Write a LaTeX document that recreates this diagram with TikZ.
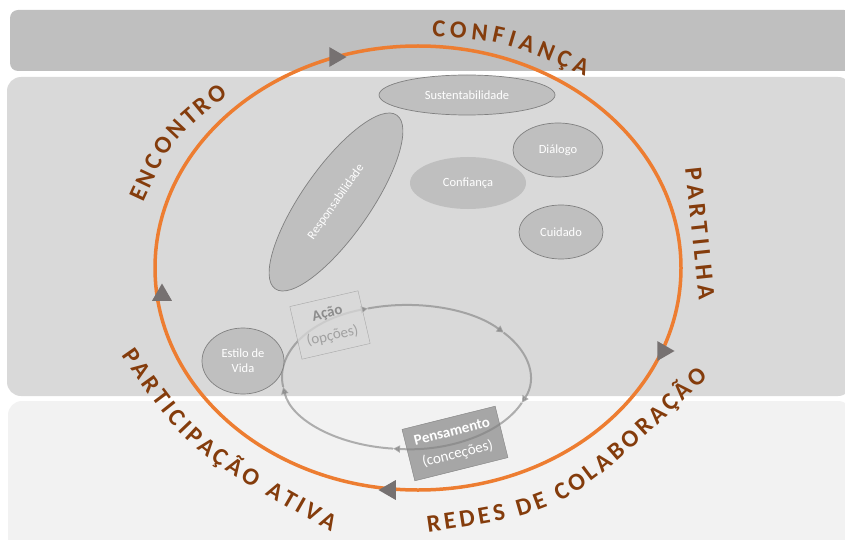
\documentclass[tikz,border=0pt]{standalone}
\usepackage{fontspec}
\setmainfont{Carlito}
\usetikzlibrary{shapes.geometric,decorations.text,arrows.meta}

\definecolor{laranja}{HTML}{ED7D31}
\definecolor{castanho}{HTML}{843C0C}
\definecolor{faixaA}{HTML}{BFBFBF}
\definecolor{faixaB}{HTML}{D9D9D9}
\definecolor{faixaC}{HTML}{F2F2F2}
\definecolor{corbolha}{HTML}{BFBFBF}
\definecolor{corbordo}{HTML}{808080}
\definecolor{corseta}{HTML}{767171}

\newcommand{\fonterotulo}{\bfseries\fontsize{24.5}{24.5}\selectfont}

\begin{document}
\begin{tikzpicture}[x=1pt, y=1pt,
		bolha/.style={ellipse, fill=corbolha, draw=corbordo, line width=.7pt, text=white, inner sep=1pt, align=center, font=\fontsize{12.5}{15}\selectfont},
		caixa/.style={rectangle, minimum width=70pt, minimum height=54pt, align=center, font=\fontsize{15}{23}\selectfont},
		ciclo/.style={draw=black!50, opacity=.6, line width=2pt, -{Triangle[length=7pt, width=7pt]}},
		seta/.style={regular polygon, regular polygon sides=3, fill=corseta, minimum size=23pt, inner sep=0pt},
		rotulo/.style={decorate, decoration={text along path, text color=castanho, text align={fit to path}}}
		]
		\useasboundingbox (0,0) rectangle (845,539);
		
		% ---- FAIXAS ----
		\fill[faixaA, rounded corners=8pt] (10,468) rectangle (852,529);
		\fill[faixaB, rounded corners=14pt] (7,143) rectangle (852,462);
		\fill[faixaC, rounded corners=14pt] (8,-20) rectangle (852,138);
		
		% ---- CICLO INTERIOR ----
		\node[caixa, draw=black!50, fill=black!35, text=white, minimum width=96pt, minimum height=53pt, rotate=14] (pens) at (455,95.5) {\textbf{Pensamento}\\(conceções)};
		
		\coordinate (laco) at (406,162);
		\draw[ciclo] (laco) ++(108:124 and 72) arc[start angle=108, end angle=38, x radius=124, y radius=72];
		\draw[ciclo] (laco) ++(38:124 and 72) arc[start angle=38, end angle=-21, x radius=124, y radius=72];
		\draw[ciclo] (laco) ++(-21:124 and 72) arc[start angle=-21, end angle=-96, x radius=124, y radius=72];
		\draw[ciclo] (laco) ++(-96:124 and 72) arc[start angle=-96, end angle=-172, x radius=124, y radius=72];
		\draw[ciclo] (laco) ++(188:124 and 72) arc[start angle=188, end angle=108, x radius=124, y radius=72];
		
		\node[caixa, draw=black!35, fill=faixaB, fill opacity=.75, text opacity=1, rotate=13] (acao) at (330,214) {\textcolor{black!45}{\textbf{Ação}}\\\textcolor{black!37}{(opções)}};
		
		% ---- VALORES ----
		\node[bolha, minimum width=176pt, minimum height=40pt] (sust) at (467,444) {Sustentabilidade};
		\node[bolha, minimum width=90pt, minimum height=54pt] (dial) at (558,389) {Diálogo};
		\node[bolha, draw=none, minimum width=116pt, minimum height=52pt] (conf) at (468,356) {Confiança};
		\node[bolha, minimum width=84pt, minimum height=54pt] (cuid) at (561,307) {Cuidado};
		\node[bolha, minimum width=212pt, minimum height=68pt, rotate=55] (resp) at (336,337) {Responsabilidade};
		\node[bolha, minimum width=82pt, minimum height=66pt] (estilo) at (243,178) {Estilo de\\Vida};
		
		% ---- CICLO EXTERIOR ----
		\coordinate (centro) at (418,271);
		\draw[laranja, line width=3.5pt] (centro) ellipse [x radius=263, y radius=222];
		
		\node[seta, rotate=-90] (s1) at (335,482) {};
		\node[seta, rotate=-90] (s2) at (663,188) {};
		\node[seta, rotate=90] (s3) at (390,49) {};
		\node[seta] (s4) at (162,244) {};
		
		% ---- ROTULOS ----
		\path[rotulo, decoration={text={|\fonterotulo|CONFIANÇA}}] (432,502) .. controls (500,499) .. (585,463);
		\path[rotulo, decoration={text={|\fonterotulo|PARTILHA}}] (685,371) .. controls (692,305) .. (699,239);
		\path[rotulo, decoration={text={|\fonterotulo|REDES DE COLABORAÇÃO}}] (428,7) .. controls (566,27) .. (708,162);
		\path[rotulo, decoration={text={|\fonterotulo|PARTICIPAÇÃO ATIVA}}] (121,184) .. controls (188,88) .. (331,7);
		\path[rotulo, decoration={text={|\fonterotulo|ENCONTRO}}] (143,336) .. controls (172,399) .. (228,444);
		
	\end{tikzpicture}
\end{document}
